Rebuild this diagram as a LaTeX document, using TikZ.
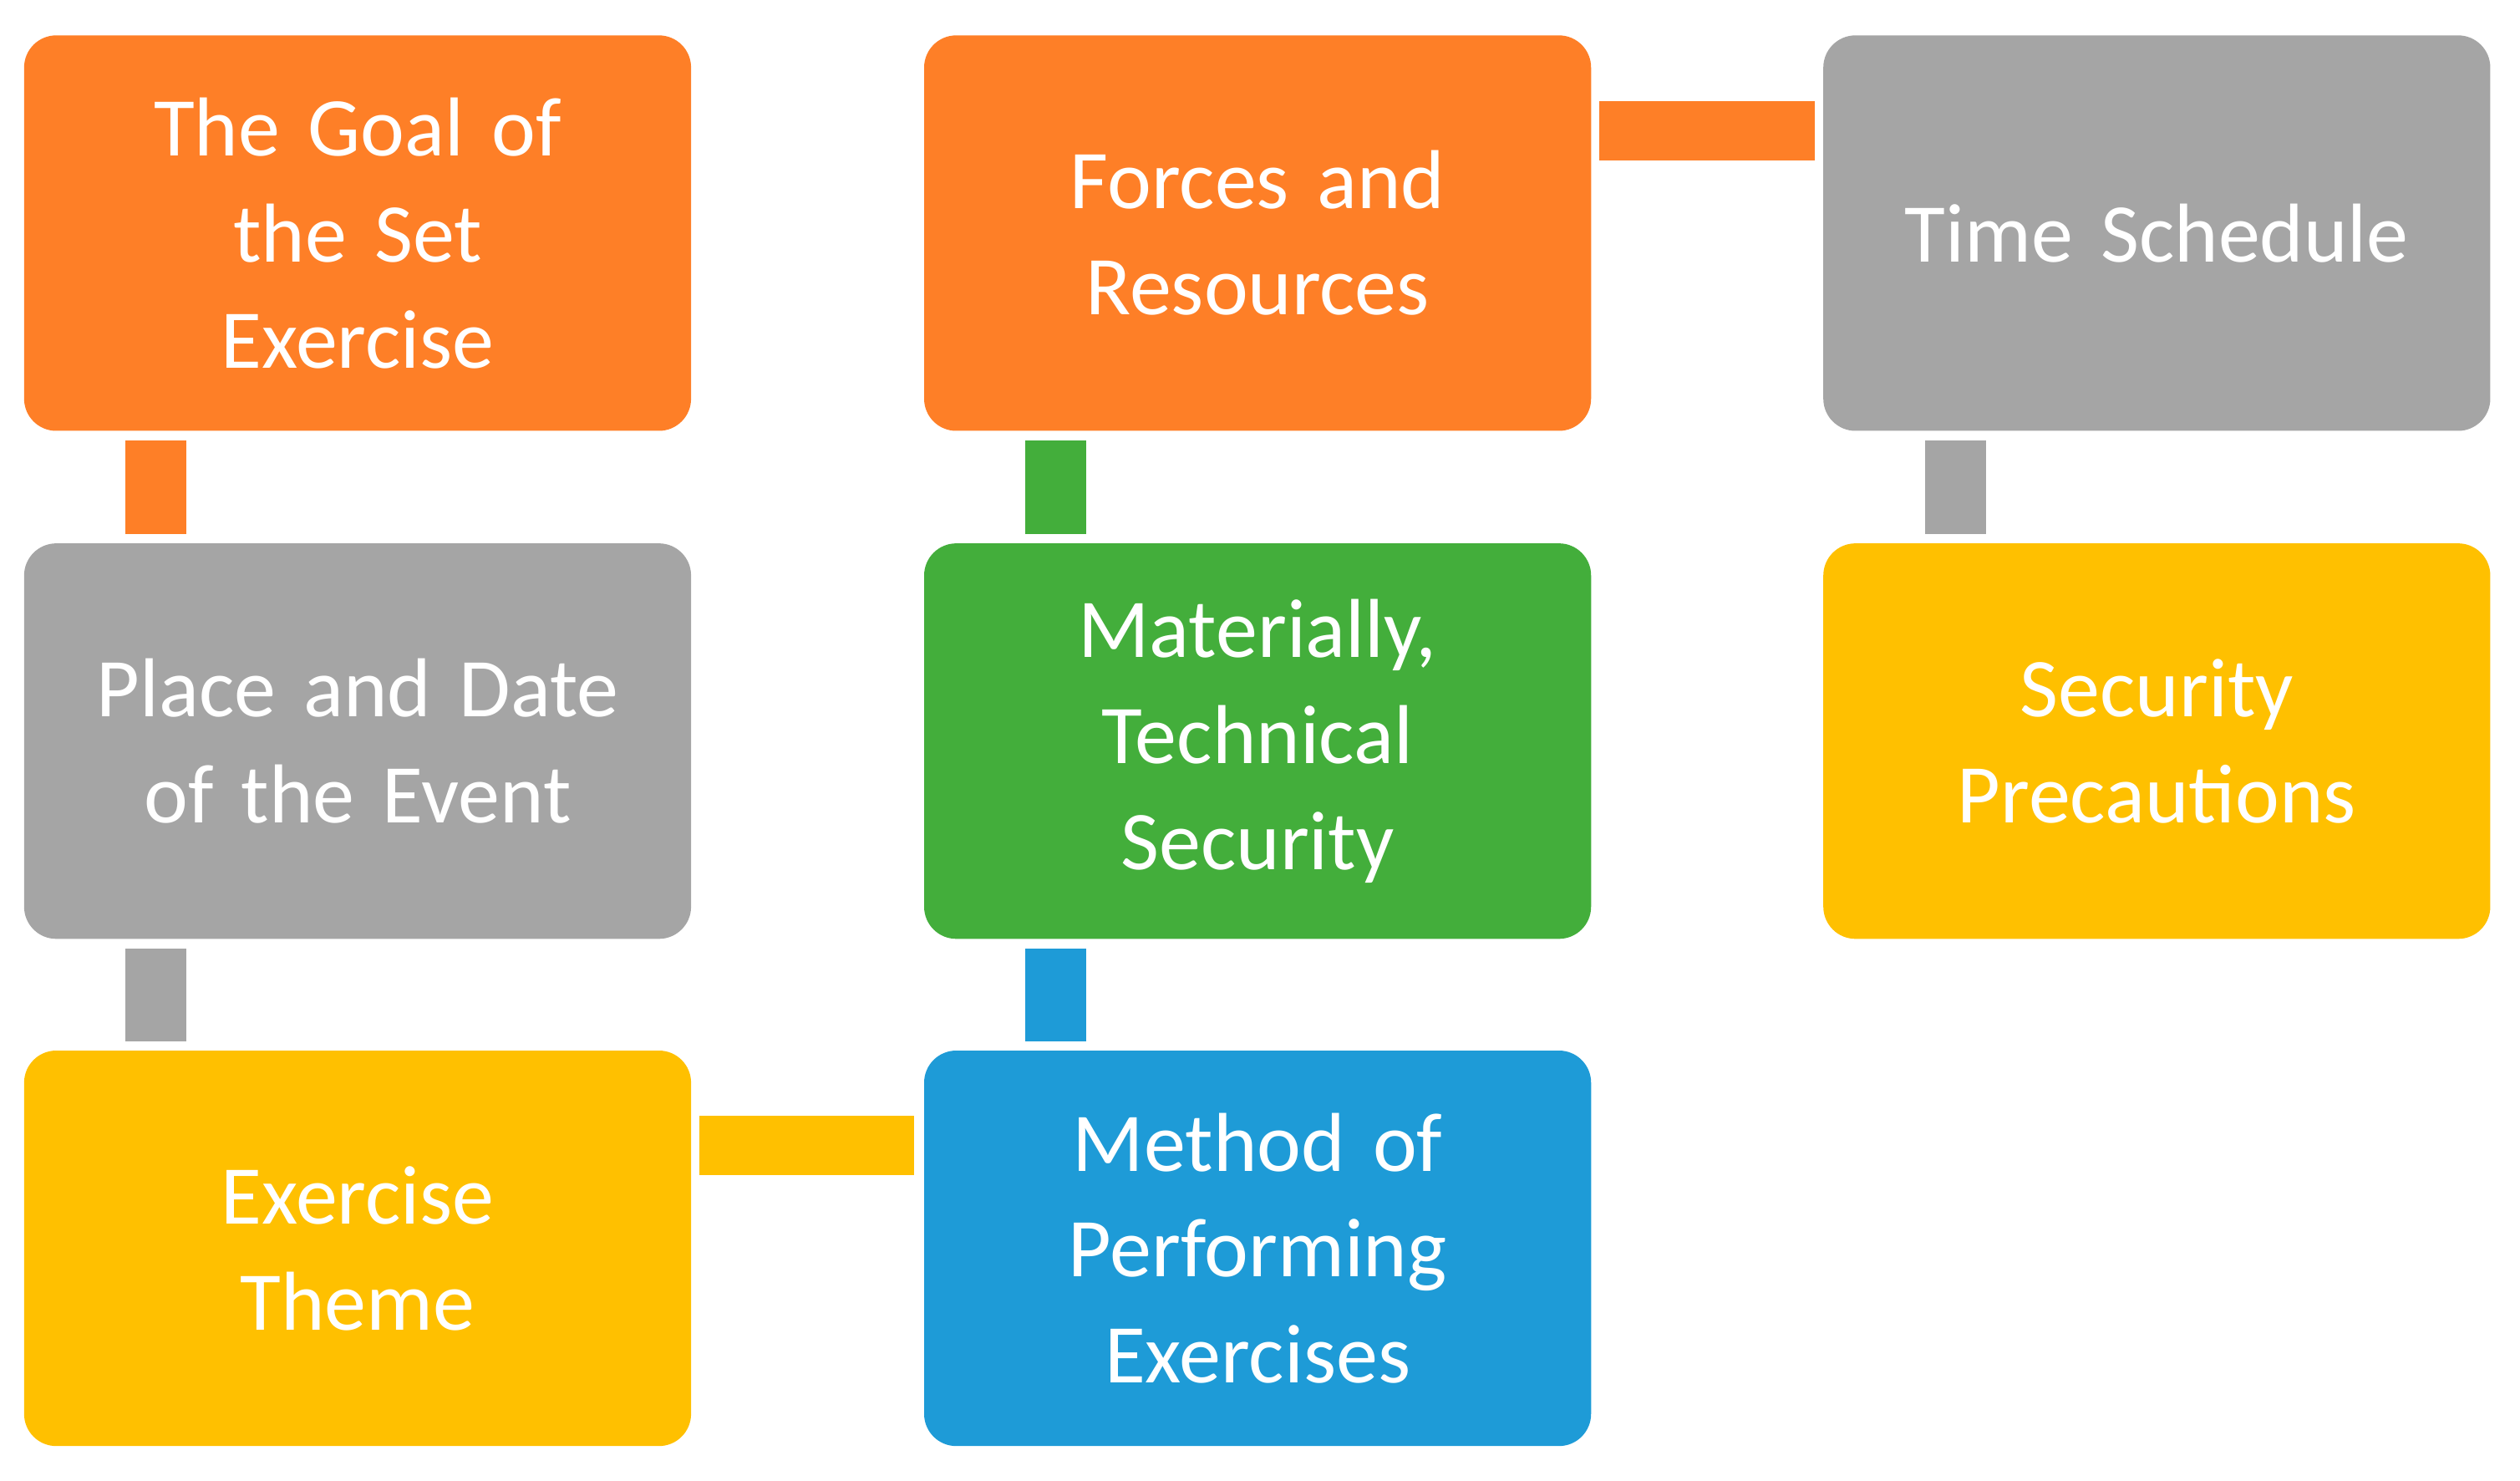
\documentclass[tikz,border=0pt]{standalone}
\usepackage{fontspec}
\setmainfont{Carlito}
\definecolor{cor}{HTML}{FE7F27}
\definecolor{cgr}{HTML}{A5A5A5}
\definecolor{cye}{HTML}{FFC000}
\definecolor{cgn}{HTML}{43AE3B}
\definecolor{cbl}{HTML}{1E9BD7}
\begin{document}
\begin{tikzpicture}[x=1pt,y=-1pt,
 box/.style={rounded corners=20pt,minimum width=415pt,minimum height=246pt,inner sep=0pt,text=white,align=center,
   font=\fontsize{52}{66}\selectfont,text width=400pt},
 bar/.style={fill=#1,draw=none}]
\useasboundingbox (0,0) rectangle (1568,921);
\node[box,fill=cor] (a) at (222.5,145) {The Goal of\\the Set\\Exercise};
\node[box,fill=cgr] (b) at (222.5,461) {Place and Date\\of the Event};
\node[box,fill=cye] (c) at (222.5,776.5) {Exercise\\Theme};
\node[box,fill=cor] (d) at (782.5,145) {Forces and\\Resources};
\node[box,fill=cgn] (e) at (782.5,461) {Materially,\\Technical\\Security};
\node[box,fill=cbl] (f) at (782.5,776.5) {Method of\\Performing\\Exercises};
\node[box,fill=cgr] (g) at (1342,145) {Time Schedule};
\node[box,fill=cye] (h) at (1342,461) {Security\\Precautions};
\fill[cor] (78,274) rectangle (116,332);
\fill[cgr] (78,590) rectangle (116,648);
\fill[cgn] (638,274) rectangle (676,332);
\fill[cbl] (638,590) rectangle (676,648);
\fill[cgr] (1198,274) rectangle (1236,332);
\fill[cor] (995,63) rectangle (1129,100);
\fill[cye] (435,694) rectangle (569,731);
\end{tikzpicture}
\end{document}
